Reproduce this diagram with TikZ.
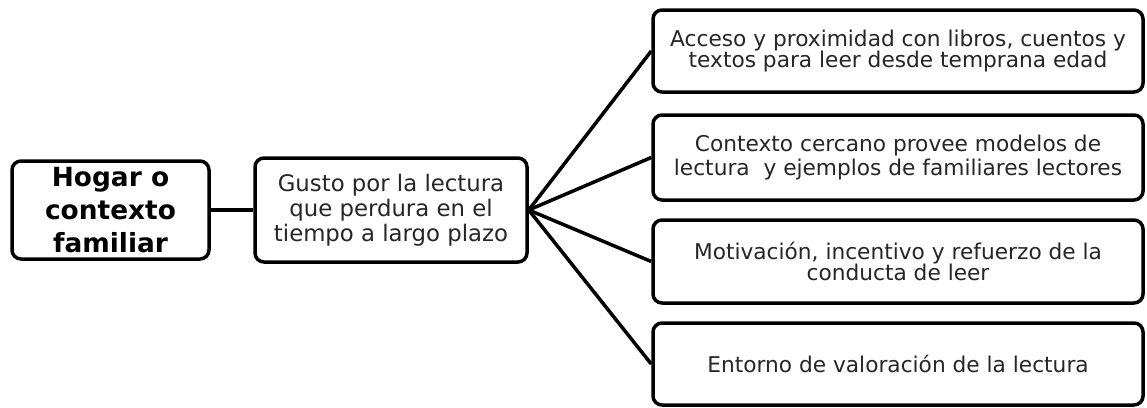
\documentclass[tikz,border=0pt]{standalone}
\usepackage{fontspec}
\setmainfont{DejaVu Sans}
\begin{document}
\begin{tikzpicture}[x=1pt,y=-1pt,
  box/.style={draw=black,line width=3.5pt,rounded corners=9pt,fill=white,align=center,inner sep=0pt,text=black!85},
  conn/.style={draw=black,line width=3.5pt}]
\useasboundingbox (0,0) rectangle (1147,407);
\fill[white] (0,0) rectangle (1147,407);
\node[box,minimum width=197pt,minimum height=98pt,font=\fontsize{26.4}{33}\selectfont\bfseries,text=black] (A) at (110.5,210) {Hogar o\\contexto\\familiar};
\node[box,minimum width=272pt,minimum height=104pt,font=\fontsize{22.8}{25}\selectfont] (B) at (391,210) {Gusto por la lectura\\que perdura en el\\tiempo a largo plazo};
\node[box,minimum width=490pt,minimum height=82pt,font=\fontsize{21.7}{21.5}\selectfont] (C1) at (898,51) {Acceso y proximidad con libros, cuentos y\\textos para leer desde temprana edad};
\node[box,minimum width=490pt,minimum height=85pt,font=\fontsize{21.7}{24.5}\selectfont] (C2) at (898,157.5) {Contexto cercano provee modelos de\\lectura \ y ejemplos de familiares lectores};
\node[box,minimum width=490pt,minimum height=83pt,font=\fontsize{21.7}{21.5}\selectfont] (C3) at (898,261.5) {Motivación, incentivo y refuerzo de la\\conducta de leer};
\node[box,minimum width=490pt,minimum height=82pt,font=\fontsize{21.7}{21.5}\selectfont] (C4) at (898,364) {Entorno de valoración de la lectura};
\draw[conn] (A.east) -- (B.west);
\foreach \n in {C1,C2,C3,C4} \draw[conn] (B.east) -- (\n.west);
\end{tikzpicture}
\end{document}
